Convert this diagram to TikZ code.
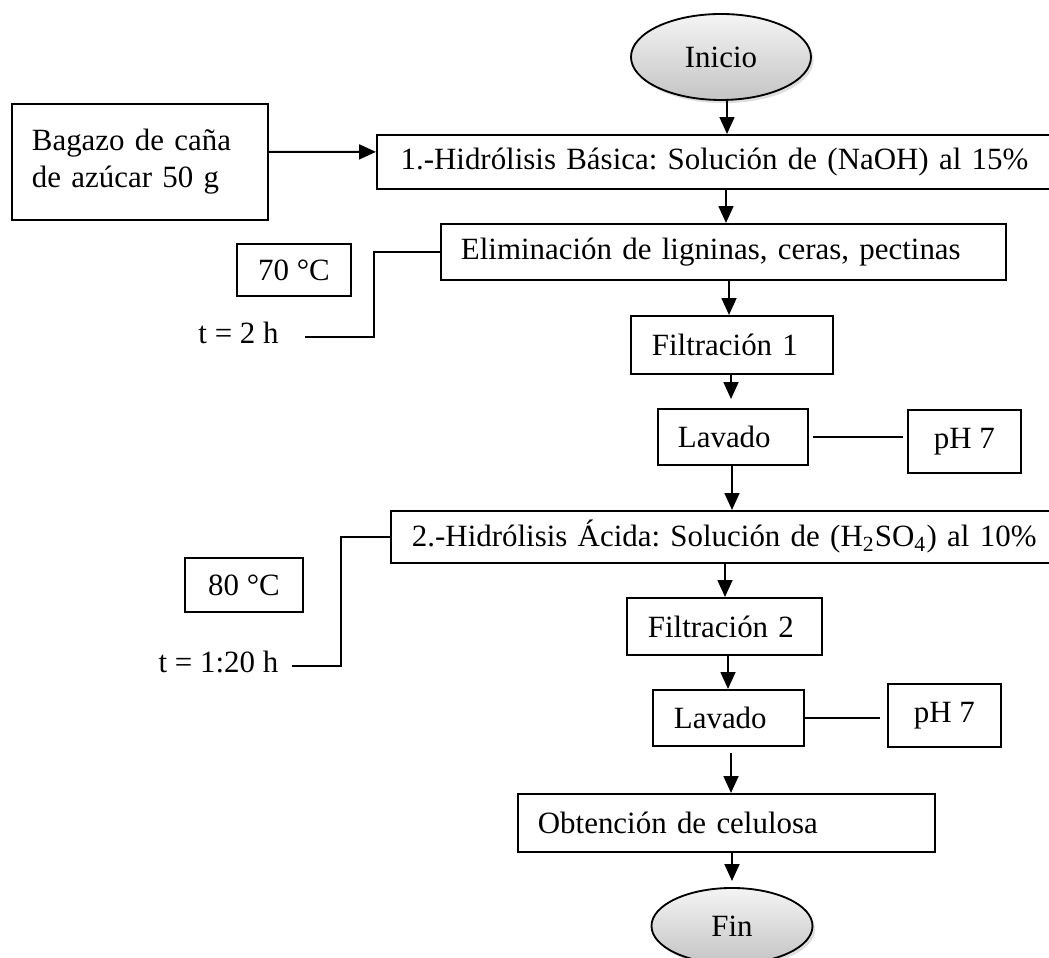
\documentclass[tikz,border=0pt]{standalone}
\usepackage{fontspec}
\setmainfont{Liberation Serif}
\usetikzlibrary{arrows.meta,shapes.geometric,shadows}
\definecolor{ovtop}{RGB}{244,244,244}
\definecolor{ovbot}{RGB}{196,196,196}
\begin{document}
\begin{tikzpicture}[x=0.38pt,y=-0.38pt,
  every node/.style={font=\fontsize{11.75pt}{14pt}\selectfont\frenchspacing},
  pbox/.style={draw, line width=0.7pt, rectangle, anchor=north west, inner ysep=0pt, align=left},
  cbox/.style={draw, line width=0.7pt, rectangle, anchor=north west, inner sep=0pt, align=center},
  oval/.style={draw, line width=0.7pt, ellipse, inner sep=0pt, top color=ovtop, bottom color=ovbot,
    drop shadow={opacity=0.25, shadow xshift=1pt, shadow yshift=-1.2pt}},
  plain/.style={inner ysep=0pt},
  arr/.style={-{Triangle[length=6.4pt,width=5.6pt]}, line width=0.8pt},
  ln/.style={line width=0.8pt}]
\useasboundingbox (0,0) rectangle (1049,958);
\fill[white] (0,0) rectangle (1049,958);
\clip (0,0) rectangle (1049,958);

% nodes
\node[oval, minimum width=68.4pt, minimum height=32.68pt] (ini) at (721,57) {Inicio};
\node[pbox, minimum width=97.28pt, minimum height=44.08pt, inner xsep=7.6pt, text width=82.08pt] (bag) at (11,103) {Bagazo de caña\\de azúcar 50 g};
\node[pbox, minimum width=300pt, minimum height=20.52pt, inner xsep=8.74pt, text width=282pt] (b1) at (376,134) {1.-Hidrólisis Básica: Solución de (NaOH) al 15\%};
\node[pbox, minimum width=214.7pt, minimum height=21.28pt, inner xsep=7.6pt, text width=199.5pt] (b2) at (440,223) {Eliminación de ligninas, ceras, pectinas};
\node[cbox, minimum width=43.32pt, minimum height=19.76pt] (c70) at (236,243) {70 °C};
\node[plain, anchor=mid, inner xsep=9.88pt] (t2) at (238.5,337) {t = 2 h};
\node[pbox, minimum width=76.76pt, minimum height=22.04pt, inner xsep=7.98pt, text width=60.8pt] (f1) at (630,315) {Filtración 1};
\node[pbox, minimum width=57pt, minimum height=21.28pt, inner xsep=7.6pt, text width=41.8pt] (l1) at (657,408) {Lavado};
\node[cbox, minimum width=42.94pt, minimum height=23.94pt] (p1) at (907,409) {pH 7};
\node[pbox, minimum width=300pt, minimum height=19.76pt, inner xsep=7.6pt, text width=284pt] (b3) at (390,510) {2.-Hidrólisis Ácida: Solución de (H\textsubscript{2}SO\textsubscript{4}) al 10\%};
\node[cbox, minimum width=44.84pt, minimum height=20.52pt] (c80) at (184,557) {80 °C};
\node[plain, anchor=mid, inner xsep=4.94pt] (t3) at (218.5,666) {t = 1:20 h};
\node[pbox, minimum width=74.1pt, minimum height=21.66pt, inner xsep=7.98pt, text width=58.14pt] (f2) at (626,597) {Filtración 2};
\node[pbox, minimum width=57.38pt, minimum height=21.28pt, inner xsep=7.98pt, text width=41.42pt] (l2) at (652,689) {Lavado};
\node[cbox, minimum width=42.94pt, minimum height=23.94pt] (p2) at (887,683) {pH 7};
\node[pbox, minimum width=158.46pt, minimum height=22.04pt, inner xsep=7.6pt, text width=143.26pt] (ob) at (517,793) {Obtención de celulosa};
\node[oval, minimum width=61.18pt, minimum height=28.88pt] (fin) at (732,926) {Fin};

% column coordinates
\coordinate (ax1) at (727,0);
\coordinate (ax2) at (726,0);
\coordinate (ax3) at (729,0);
\coordinate (ax4) at (731,0);
\coordinate (ax5) at (732,0);
\coordinate (ax6) at (725,0);
\coordinate (ax7) at (728,0);
\coordinate (ax8) at (731,0);
\coordinate (ax9) at (732,0);
\coordinate (k1) at (374,337);
\coordinate (k2) at (341,666);

% main flow
\draw[arr] (ini.south -| ax1) -- (b1.north -| ax1);
\draw[arr] (b1.south -| ax2) -- (b2.north -| ax2);
\draw[arr] (b2.south -| ax3) -- (f1.north -| ax3);
\draw[arr, shorten >=3.4pt] (f1.south -| ax4) -- (l1.north -| ax4);
\draw[arr] (l1.south -| ax5) -- (b3.north -| ax5);
\draw[arr] (b3.south -| ax6) -- (f2.north -| ax6);
\draw[arr] (f2.south -| ax7) -- (l2.north -| ax7);
\draw[arr, shorten <=2.3pt] (l2.south -| ax8) -- (ob.north -| ax8);
\draw[arr, shorten >=2.3pt] (ob.south -| ax9) -- (fin.north -| ax9);

% side connections
\draw[arr] ([yshift=3.8pt]bag.east) -- ([yshift=3.8pt]b1.west);
\draw[ln] (b2.west) -| (k1) -- (t2.mid east);
\draw[ln] (b3.west) -| (k2) -- (t3.mid east);
\draw[ln, shorten <=1.5pt, shorten >=1.5pt] (l1.east) -- (l1.east -| p1.west);
\draw[ln, shorten >=2.6pt] (l2.east) -- (l2.east -| p2.west);
\end{tikzpicture}
\end{document}
